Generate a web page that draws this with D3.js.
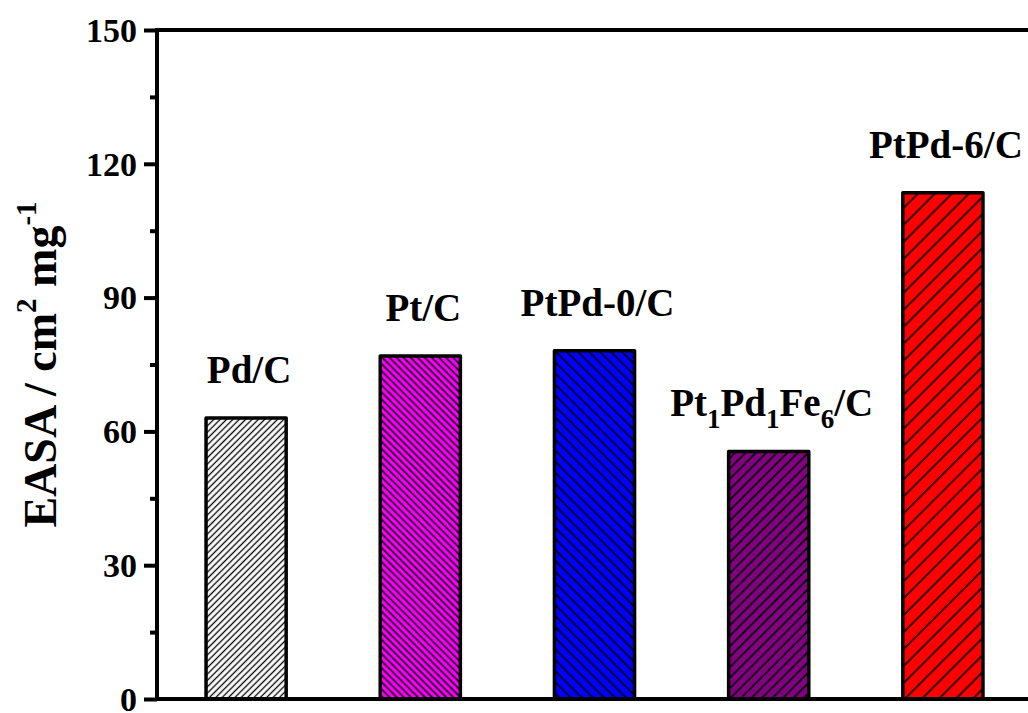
<!DOCTYPE html>
<html>
<head>
<meta charset="utf-8">
<script src="https://cdn.jsdelivr.net/npm/d3@7"></script>
<style>
  html, body { margin: 0; padding: 0; background: #fff; }
  svg { display: block; }
  text { font-family: "Liberation Serif", "Times New Roman", serif; font-weight: bold; }
</style>
</head>
<body>
<div class="chart"></div>
<script>
// data
const catalysts = ['Pd/C', 'Pt/C', 'PtPd-0/C', 'Pt1Pd1Fe6/C', 'PtPd-6/C'];
const easa = [63.0, 76.9, 78.1, 55.5, 113.5];
const barColors = ['#ffffff', '#ff00ff', '#0000ff', '#800080', '#ff0000'];
const yTicks = [0, 30, 60, 90, 120, 150];

const width = 1028, height = 713;
const margin = { left: 157, top: 30, right: 0, bottom: 14 };

// hatch style per bar: direction and gap between lines
const hatches = [
  { dir: '/', gap: 4.5, w: 1.3 },
  { dir: '\\', gap: 5.0, w: 1.6 },
  { dir: '\\', gap: 7.8, w: 1.6 },
  { dir: '/', gap: 7.4, w: 1.6 },
  { dir: '/', gap: 12, w: 1.6 }
];

const svg = d3.select('.chart')
  .append('svg')
  .attr('width', width)
  .attr('height', height);

const x = d3.scaleBand()
  .domain(catalysts)
  .range([margin.left + 2, width + 2])
  .paddingInner(0.54)
  .paddingOuter(0.27);

const y = d3.scaleLinear()
  .domain([0, 150])
  .range([height - margin.bottom, margin.top]);

const defs = svg.append('defs');
hatches.forEach((h, i) => {
  const p = defs.append('pattern')
    .attr('id', 'hatch' + i)
    .attr('patternUnits', 'userSpaceOnUse')
    .attr('width', h.gap)
    .attr('height', h.gap)
    .attr('patternTransform', `rotate(${h.dir === '/' ? -45 : 45})`);
  p.append('rect')
    .attr('width', h.gap)
    .attr('height', h.gap)
    .attr('fill', barColors[i]);
  p.append('line')
    .attr('x1', 0).attr('x2', h.gap)
    .attr('y1', h.gap / 2).attr('y2', h.gap / 2)
    .attr('stroke', '#000')
    .attr('stroke-width', h.w);
});

// bars
svg.selectAll('.bar')
  .data(catalysts)
  .join('rect')
  .attr('class', 'bar')
  .attr('x', d => x(d))
  .attr('y', (d, i) => y(easa[i]))
  .attr('width', x.bandwidth())
  .attr('height', (d, i) => y(0) - y(easa[i]))
  .attr('fill', (d, i) => `url(#hatch${i})`)
  .attr('stroke', '#000')
  .attr('stroke-width', 3.5)
  .attr('stroke-linejoin', 'round');

// bar labels (with subscripts for the alloy)
const labels = svg.selectAll('.blabel')
  .data(catalysts)
  .join('text')
  .attr('class', 'blabel')
  .attr('x', d => x(d) + x.bandwidth() / 2 + 3)
  .attr('y', (d, i) => y(easa[i]) - 35)
  .attr('text-anchor', 'middle')
  .style('font-size', '39px');

labels.each(function (d) {
  const t = d3.select(this);
  const m = d.match(/^Pt(\d)Pd(\d)Fe(\d)(\/C)$/);
  if (!m) { t.text(d); return; }
  const parts = [['Pt', false], [m[1], true], ['Pd', false], [m[2], true], ['Fe', false], [m[3], true], [m[4], false]];
  let shifted = false;
  parts.forEach(([s, sub]) => {
    const ts = t.append('tspan').text(s);
    if (sub) { ts.attr('dy', 12).style('font-size', '27px'); shifted = true; }
    else if (shifted) { ts.attr('dy', -12); shifted = false; }
  });
});

// y axis with minor ticks
const axisG = svg.append('g')
  .attr('transform', `translate(${margin.left},0)`);

axisG.call(d3.axisLeft(y).tickValues(d3.range(15, 150, 30)).tickSize(7).tickFormat(''))
  .call(g => g.select('.domain').remove());
axisG.append('g').call(d3.axisLeft(y).tickValues(yTicks).tickSize(13).tickPadding(7))
  .call(g => g.select('.domain').remove())
  .call(g => g.selectAll('text').style('font-size', '34px').attr('dy', '0.33em'));
axisG.selectAll('line').attr('stroke', '#000').attr('stroke-width', 4);

// frame: left axis, top and bottom lines
svg.append('line')
  .attr('x1', margin.left).attr('x2', margin.left)
  .attr('y1', y(150)).attr('y2', y(0))
  .attr('stroke', '#000').attr('stroke-width', 4);
[0, 150].forEach(v => {
  svg.append('line')
    .attr('x1', margin.left - 2).attr('x2', width)
    .attr('y1', y(v)).attr('y2', y(v))
    .attr('stroke', '#000').attr('stroke-width', 4);
});

// y axis title
const title = svg.append('text')
  .attr('transform', `translate(56,${(y(0) + y(150)) / 2}) rotate(-90)`)
  .attr('text-anchor', 'middle')
  .style('font-size', '46px');
title.append('tspan').text('EASA / cm');
title.append('tspan').text('2').attr('dy', -20).style('font-size', '29px');
title.append('tspan').text(' mg').attr('dy', 20);
title.append('tspan').text('-1').attr('dy', -20).style('font-size', '29px');
</script>
</body>
</html>
